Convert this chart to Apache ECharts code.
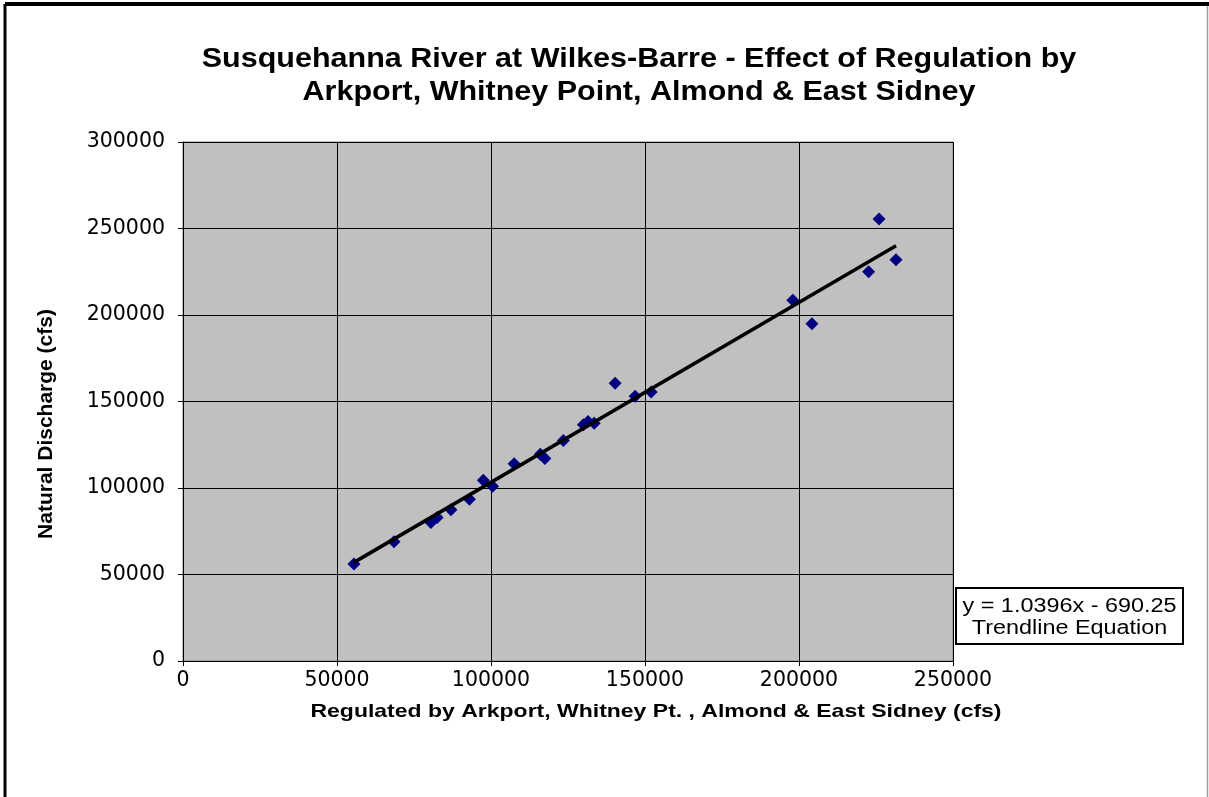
<!DOCTYPE html>
<html><head><meta charset="utf-8">
<script src="https://cdn.jsdelivr.net/npm/echarts@6/dist/echarts.min.js"></script>
<style>html,body{margin:0;padding:0;background:#fff;overflow:hidden}#c{width:1209px;height:797px}</style>
</head><body><div id="c"></div>
<script>
// Regulated flow (x) and natural discharge (y), cfs
const regulated = [55500, 68500, 80500, 82500, 87000, 93000, 97500, 100500, 107500, 116000, 117500, 123500, 130000, 131500, 133500, 140300, 146800, 152000, 198000, 204200, 222600, 226000, 231500];
const natural   = [56000, 69000, 80000, 83000, 87500, 93500, 104500, 101000, 114000, 119500, 117000, 127500, 136500, 138500, 137500, 160500, 153000, 155500, 208500, 195000, 225000, 255500, 232000];
const trendSlope = 1.0396;
const trendIntercept = -690.25;
const titleLines = ['Susquehanna River at Wilkes-Barre - Effect of Regulation by', 'Arkport, Whitney Point, Almond & East Sidney'];
const xTitle = 'Regulated by Arkport, Whitney Pt. , Almond & East Sidney (cfs)';
const yTitle = 'Natural Discharge (cfs)';
const eqLines = ['y = 1.0396x - 690.25', 'Trendline Equation'];
const xAxisRange = [0, 250000, 50000];
const yAxisRange = [0, 300000, 50000];

const points = regulated.map((x, i) => [x, natural[i]]);
const xmin = Math.min(...regulated), xmax = Math.max(...regulated);
const trend = [[xmin, trendSlope * xmin + trendIntercept], [xmax, trendSlope * xmax + trendIntercept]];

const F = '"Liberation Sans", Arial, sans-serif';
const chart = echarts.init(document.getElementById('c'), null, {renderer: 'canvas'});
chart.setOption({
  animation: false,
  backgroundColor: '#ffffff',
  grid: {left: 183, top: 142, width: 770, height: 519, show: true, backgroundColor: '#c0c0c0', borderColor: '#808080', borderWidth: 1},
  xAxis: {
    type: 'value', min: xAxisRange[0], max: xAxisRange[1], interval: xAxisRange[2],
    axisLine: {show: true, onZero: false, lineStyle: {color: '#000', width: 1}},
    axisTick: {show: true, inside: false, length: 5, lineStyle: {color: '#000'}},
    splitLine: {show: true, lineStyle: {color: '#000', width: 1}},
    axisLabel: {color: '#000', fontFamily: '"DejaVu Sans", sans-serif', fontSize: 20.5, margin: 9, formatter: v => String(v)}
  },
  yAxis: {
    type: 'value', min: yAxisRange[0], max: yAxisRange[1], interval: yAxisRange[2],
    axisLine: {show: true, onZero: false, lineStyle: {color: '#000', width: 1}},
    axisTick: {show: true, inside: false, length: 5, lineStyle: {color: '#000'}},
    splitLine: {show: true, lineStyle: {color: '#000', width: 1}},
    axisLabel: {color: '#000', fontFamily: '"DejaVu Sans", sans-serif', fontSize: 20.5, margin: 18, formatter: v => String(v)}
  },
  series: [
    {type: 'scatter', data: points, symbol: 'diamond', symbolSize: [13, 13], itemStyle: {color: '#000080', opacity: 1}, z: 2},
    {type: 'line', data: trend, showSymbol: false, symbol: 'none', lineStyle: {color: '#000', width: 3.5}, z: 3, silent: true}
  ],
  graphic: [
    {type: 'line', shape: {x1: 5, y1: 4, x2: 1209, y2: 4}, style: {stroke: '#000', lineWidth: 4}, z: 100},
    {type: 'line', shape: {x1: 5, y1: 4, x2: 5, y2: 797}, style: {stroke: '#000', lineWidth: 3}, z: 100},
    {type: 'line', shape: {x1: 1207.5, y1: 6, x2: 1207.5, y2: 797}, style: {stroke: '#a0a0a0', lineWidth: 1.5}, z: 100},
    {type: 'text', x: 639, y: 60, scaleX: 1.13, style: {text: titleLines[0], x: 0, y: 0, textAlign: 'center', textVerticalAlign: 'middle', font: 'bold 27px ' + F, fill: '#000'}, z: 100},
    {type: 'text', x: 639, y: 93, scaleX: 1.13, style: {text: titleLines[1], x: 0, y: 0, textAlign: 'center', textVerticalAlign: 'middle', font: 'bold 27px ' + F, fill: '#000'}, z: 100},
    {type: 'text', x: 656, y: 712, scaleX: 1.21, style: {text: xTitle, x: 0, y: 0, textAlign: 'center', textVerticalAlign: 'middle', font: 'bold 19px ' + F, fill: '#000'}, z: 100},
    {type: 'text', x: 46, y: 424, rotation: Math.PI / 2, style: {text: yTitle, x: 0, y: 0, textAlign: 'center', textVerticalAlign: 'middle', font: 'bold 21px ' + F, fill: '#000'}, z: 100},
    {type: 'rect', shape: {x: 956, y: 588, width: 227, height: 56}, style: {fill: '#fff', stroke: '#000', lineWidth: 2}, z: 100},
    {type: 'text', x: 1069.5, y: 607, scaleX: 1.2, style: {text: eqLines[0], x: 0, y: 0, textAlign: 'center', textVerticalAlign: 'middle', font: 'normal 19.5px ' + F, fill: '#000'}, z: 101},
    {type: 'text', x: 1069.5, y: 629, scaleX: 1.2, style: {text: eqLines[1], x: 0, y: 0, textAlign: 'center', textVerticalAlign: 'middle', font: 'normal 19.5px ' + F, fill: '#000'}, z: 101}
  ]
});
</script></body></html>
